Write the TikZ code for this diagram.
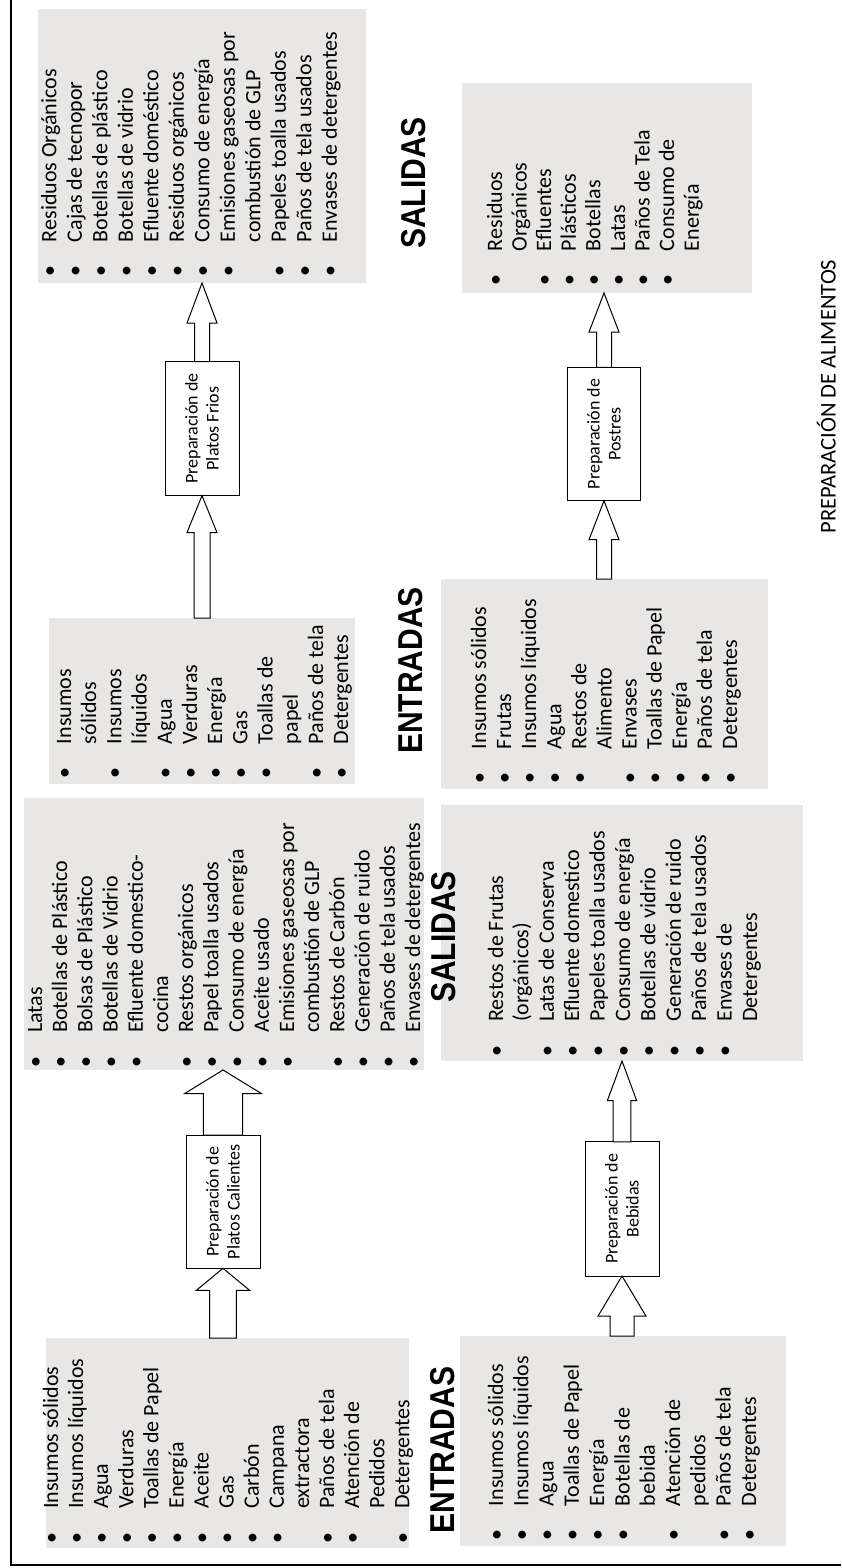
\documentclass[tikz,border=0pt]{standalone}
\usepackage{fontspec}
\setmainfont{Carlito}
\newfontfamily\headfont{Liberation Sans}
\usetikzlibrary{calc}
\definecolor{boxgray}{RGB}{232,231,230}

% list helpers: bulleted line and continuation line
\newcommand\itm{\makebox[14pt][c]{•}\hspace{22pt}}
\newcommand\cnt{\hspace{36pt}}
\newcommand\listfont[1]{\fontsize{22}{#1}\selectfont}
% tall bold heading lettering
\newcommand\headtext[1]{\scalebox{1}[1.15]{#1}}

% hollow block arrow from tail point #1 to tip point #2
% #3 shaft half width, #4 head half width, #5 head length
\newcommand\blockarrow[5]{%
  \draw[arrowshape] let \p1=(#1), \p2=(#2) in
    (\x1-#3pt,\y1) -- (\x1-#3pt,\y2-#5pt) -- (\x2-#4pt,\y2-#5pt) -- (\x2,\y2)
    -- (\x2+#4pt,\y2-#5pt) -- (\x1+#3pt,\y2-#5pt) -- (\x1+#3pt,\y1) -- cycle;}

\tikzset{
  graybox/.style={fill=boxgray, draw=none, inner sep=0pt, outer sep=0pt},
  listtext/.style={rotate=90, anchor=base west, inner sep=0pt, outer sep=0pt},
  procbox/.style={draw, fill=white, line width=1pt, rotate=90, inner sep=0pt,
    outer sep=0pt, align=center, font=\fontsize{18}{21}\selectfont},
  heading/.style={rotate=90, inner sep=0pt, font=\headfont\bfseries\fontsize{30}{36}\selectfont},
  arrowshape/.style={draw, fill=white, line width=1pt, line join=miter},
  frameline/.style={line width=1.2pt}
}

\begin{document}
\begin{tikzpicture}[x=1pt, y=-1pt]
\useasboundingbox (0,0) rectangle (841,1568);

% page frame (left and bottom rules)
\coordinate (ftop) at (11,0);
\coordinate (fcorner) at (11,1565);
\coordinate (fend) at (841,1565);
\draw[frameline] (ftop) -- (fcorner) -- (fend);

% grey list panels
\node[graybox, minimum width=328.5pt, minimum height=274pt] (A) at (201.75,146) {};
\node[graybox, minimum width=306pt, minimum height=166pt] (B) at (202,701) {};
\node[graybox, minimum width=290pt, minimum height=210pt] (C) at (607,188) {};
\node[graybox, minimum width=327pt, minimum height=210pt] (D) at (604.5,684) {};
\node[graybox, minimum width=363pt, minimum height=210pt] (E) at (227.5,1443) {};
\node[graybox, minimum width=400pt, minimum height=272pt] (F) at (223.65,934) {};
\node[graybox, minimum width=362pt, minimum height=256pt] (G) at (622,933) {};
\node[graybox, minimum width=326pt, minimum height=210pt] (H) at (623,1441) {};

% process boxes
\node[procbox, minimum width=134pt, minimum height=74pt] (P1) at (202,428.6) {Preparación de\\Platos Frios};
\node[procbox, minimum width=133.4pt, minimum height=73.4pt] (P2) at (604,434) {Preparación de\\Postres};
\node[procbox, minimum width=133.3pt, minimum height=74pt] (P3) at (223,1201.7) {Preparación de\\Platos Calientes};
\node[procbox, minimum width=134.3pt, minimum height=74pt] (P4) at (622,1208.9) {Preparación de\\Bebidas};

% flow arrows: inputs -> process -> outputs
\blockarrow{P1.west |- B.north}{P1.west}{8}{15}{37}
\blockarrow{P1.east}{P1.east |- A.south}{7.5}{15}{40}
\blockarrow{P2.west |- D.north}{P2.west}{7.5}{15}{39}
\blockarrow{P2.east}{P2.east |- C.south}{7.5}{15}{39}
\blockarrow{P3.west |- E.north}{P3.west}{13.3}{26.7}{22}
\blockarrow{P3.east}{P3.east |- F.south}{19.7}{38.3}{23.5}
\blockarrow{P4.west |- H.north}{P4.west}{12}{24}{40}
\blockarrow{P4.east}{P4.east |- G.south}{8.8}{14.7}{39.7}

% headings
\node[heading] (h1) at (413.5,183) {\headtext{SALIDAS}};
\node[heading] (h2) at (410.5,670.5) {\headtext{ENTRADAS}};
\node[heading] (h3) at (444,937) {\headtext{SALIDAS}};
\node[heading] (h4) at (442.5,1450) {\headtext{ENTRADAS}};

\node[rotate=90, anchor=base, inner sep=0pt, font=\fontsize{22.5}{27}\selectfont] (title)
  at (835.5,396.5) {PREPARACIÓN DE ALIMENTOS};

% lists
\node[listtext] (tA) at (56.3,278) {\listfont{25.5}\begin{tabular}[t]{@{}l@{}}
\itm Residuos Orgánicos\\
\itm Cajas de tecnopor\\
\itm Botellas de plástico\\
\itm Botellas de vidrio\\
\itm Efluente doméstico\\
\itm Residuos orgánicos\\
\itm Consumo de energía\\
\itm Emisiones gaseosas por\\
\cnt combustión de GLP\\
\itm Papeles toalla usados\\
\itm Paños de tela usados\\
\itm Envases de detergentes
\end{tabular}};

\node[listtext] (tB) at (71,780) {\listfont{25.2}\begin{tabular}[t]{@{}l@{}}
\itm Insumos\\
\cnt sólidos\\
\itm Insumos\\
\cnt líquidos\\
\itm Agua\\
\itm Verduras\\
\itm Energía\\
\itm Gas\\
\itm Toallas de\\
\cnt papel\\
\itm Paños de tela\\
\itm Detergentes
\end{tabular}};

\node[listtext] (tC) at (502,287) {\listfont{24.6}\begin{tabular}[t]{@{}l@{}}
\itm Residuos\\
\cnt Orgánicos\\
\itm Efluentes\\
\itm Plásticos\\
\itm Botellas\\
\itm Latas\\
\itm Paños de Tela\\
\itm Consumo de\\
\cnt Energía
\end{tabular}};

\node[listtext] (tD) at (486,785) {\listfont{25.1}\begin{tabular}[t]{@{}l@{}}
\itm Insumos sólidos\\
\itm Frutas\\
\itm Insumos líquidos\\
\itm Agua\\
\itm Restos de\\
\cnt Alimento\\
\itm Envases\\
\itm Toallas de Papel\\
\itm Energía\\
\itm Paños de tela\\
\itm Detergentes
\end{tabular}};

\node[listtext] (tE) at (58,1544.7) {\listfont{25.1}\begin{tabular}[t]{@{}l@{}}
\itm Insumos sólidos\\
\itm Insumos líquidos\\
\itm Agua\\
\itm Verduras\\
\itm Toallas de Papel\\
\itm Energía\\
\itm Aceite\\
\itm Gas\\
\itm Carbón\\
\itm Campana\\
\cnt extractora\\
\itm Paños de tela\\
\itm Atención de\\
\cnt Pedidos\\
\itm Detergentes
\end{tabular}};

\node[listtext] (tF) at (42,1068.7) {\listfont{25.2}\begin{tabular}[t]{@{}l@{}}
\itm Latas\\
\itm Botellas de Plástico\\
\itm Bolsas de Plástico\\
\itm Botellas de Vidrio\\
\itm Efluente domestico-\\
\cnt cocina\\
\itm Restos orgánicos\\
\itm Papel toalla usados\\
\itm Consumo de energía\\
\itm Aceite usado\\
\itm Emisiones gaseosas por\\
\cnt combustión de GLP\\
\itm Restos de Carbón\\
\itm Generación de ruido\\
\itm Paños de tela usados\\
\itm Envases de detergentes
\end{tabular}};

\node[listtext] (tG) at (503,1057.7) {\listfont{25.4}\begin{tabular}[t]{@{}l@{}}
\itm Restos de Frutas\\
\cnt (orgánicos)\\
\itm Latas de Conserva\\
\itm Efluente domestico\\
\itm Papeles toalla usados\\
\itm Consumo de energía\\
\itm Botellas de vidrio\\
\itm Generación de ruido\\
\itm Paños de tela usados\\
\itm Envases de\\
\cnt Detergentes
\end{tabular}};

\node[listtext] (tH) at (503,1542) {\listfont{25.3}\begin{tabular}[t]{@{}l@{}}
\itm Insumos sólidos\\
\itm Insumos líquidos\\
\itm Agua\\
\itm Toallas de Papel\\
\itm Energía\\
\itm Botellas de\\
\cnt bebida\\
\itm Atención de\\
\cnt pedidos\\
\itm Paños de tela\\
\itm Detergentes
\end{tabular}};

\end{tikzpicture}
\end{document}
